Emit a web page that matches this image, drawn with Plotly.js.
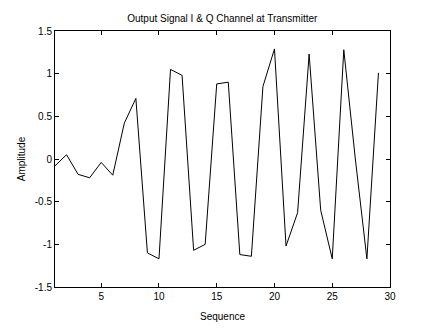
<!DOCTYPE html>
<html>
<head>
<meta charset="utf-8">
<script src="https://cdn.plot.ly/plotly-3.0.1.min.js"></script>
<style>
  html, body { margin: 0; padding: 0; background: #ffffff; }
  #chart { width: 430px; height: 331px; }
</style>
</head>
<body>
<div id="chart"></div>
<script>
// Sequence index
const sequence = [1, 2, 3, 4, 5, 6, 7, 8, 9, 10,
                  11, 12, 13, 14, 15, 16, 17, 18, 19, 20,
                  21, 22, 23, 24, 25, 26, 27, 28, 29];
// Amplitude
const amplitude = [-0.08, 0.05, -0.18, -0.22, -0.04, -0.19, 0.42, 0.71, -1.10, -1.17,
                   1.05, 0.98, -1.07, -1.00, 0.88, 0.90, -1.12, -1.14, 0.85, 1.29,
                   -1.02, -0.63, 1.23, -0.60, -1.17, 1.28, 0.00, -1.17, 1.01];
const xTicks = [5, 10, 15, 20, 25, 30];
const yTicks = [-1.5, -1, -0.5, 0, 0.5, 1, 1.5];
const yTickLabels = ["-1.5", "-1", "-0.5", "0", "0.5", "1", "1.5"];

const trace = {
  x: sequence,
  y: amplitude,
  type: "scatter",
  mode: "lines",
  line: { color: "#000000", width: 1 },
  hoverinfo: "skip"
};

const axisFont = { family: "Liberation Sans, Arial, sans-serif", size: 10, color: "#000000" };

const layout = {
  width: 430,
  height: 331,
  margin: { l: 55, r: 40, t: 31, b: 44 },
  paper_bgcolor: "#ffffff",
  plot_bgcolor: "#ffffff",
  showlegend: false,
  title: {
    text: "Output Signal I & Q Channel at Transmitter",
    font: { family: "Liberation Sans, Arial, sans-serif", size: 10, color: "#000000" },
    x: 0.517, xanchor: "center",
    y: 0.945, yanchor: "middle"
  },
  xaxis: {
    range: [1, 30],
    tickvals: xTicks,
    ticktext: xTicks.map(String),
    ticks: "inside",
    ticklen: 4,
    tickcolor: "#000000",
    showline: true,
    linecolor: "#000000",
    linewidth: 1,
    mirror: "ticks",
    showgrid: false,
    zeroline: false,
    tickfont: axisFont,
    title: { text: "Sequence", font: axisFont, standoff: 11 }
  },
  yaxis: {
    range: [-1.5, 1.5],
    tickvals: yTicks,
    ticktext: yTickLabels,
    ticks: "inside",
    ticklen: 4,
    tickcolor: "#000000",
    showline: true,
    linecolor: "#000000",
    linewidth: 1,
    mirror: "ticks",
    showgrid: false,
    zeroline: false,
    tickfont: axisFont,
    title: { text: "Amplitude", font: axisFont, standoff: 7 }
  }
};

Plotly.newPlot("chart", [trace], layout, { staticPlot: true, displayModeBar: false });
</script>
</body>
</html>
